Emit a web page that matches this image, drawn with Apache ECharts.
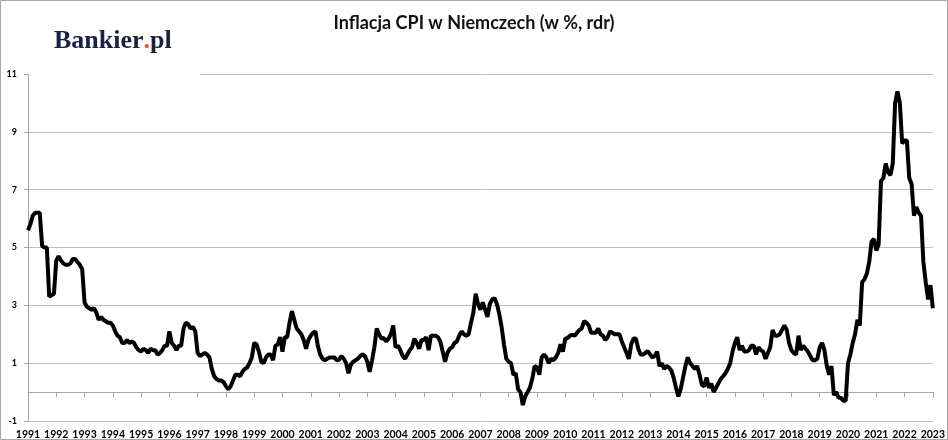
<!DOCTYPE html>
<html><head><meta charset="utf-8">
<script src="https://cdn.jsdelivr.net/npm/echarts@6/dist/echarts.min.js"></script>
<style>html,body{margin:0;padding:0;background:#fff}#c{width:948px;height:440px}</style>
</head><body><div id="c"></div>
<script>
const yearLabels = ['1991','1992','1993','1994','1995','1996','1997','1998','1999','2000','2001','2002','2003','2004','2005','2006','2007','2008','2009','2010','2011','2012','2013','2014','2015','2016','2017','2018','2019','2020','2021','2022','2023'];

// monthly y/y CPI, Jan 1992 .. Jan 2024
const cpi1992to1997 = [
  5.6, 5.8, 6.1, 6.2, 6.2, 6.2, 5.05, 5.0, 5.0, 3.3, 3.35, 3.4,
  4.55, 4.7, 4.55, 4.45, 4.4, 4.4, 4.45, 4.6, 4.6, 4.5, 4.4, 4.25,
  3.1, 2.95, 2.9, 2.85, 2.9, 2.75, 2.5, 2.6, 2.5, 2.45, 2.4, 2.4,
  2.3, 2.1, 1.95, 1.9, 1.7, 1.7, 1.8, 1.7, 1.75, 1.7, 1.55, 1.45,
  1.4, 1.5, 1.45, 1.35, 1.5, 1.45, 1.45, 1.3, 1.35, 1.45, 1.6, 1.6,
  2.1, 1.7, 1.6, 1.45, 1.6, 1.6, 2.2, 2.4, 2.35, 2.2, 2.25, 2.1
];
const cpi1998to2003 = [
  1.35, 1.25, 1.3, 1.35, 1.3, 1.2, 0.8, 0.55, 0.45, 0.4, 0.4, 0.35,
  0.2, 0.1, 0.2, 0.4, 0.6, 0.6, 0.55, 0.7, 0.8, 0.85, 1.0, 1.2,
  1.7, 1.65, 1.4, 1.05, 1.0, 1.2, 1.3, 1.3, 1.1, 1.6, 1.65, 1.9,
  1.4, 1.9, 1.9, 2.4, 2.8, 2.5, 2.2, 2.1, 2.0, 1.8, 1.5, 1.8,
  1.95, 2.05, 2.1, 1.6, 1.3, 1.15, 1.1, 1.15, 1.2, 1.2, 1.2, 1.1,
  1.12, 1.25, 1.15, 1.0, 0.65, 0.95, 1.05, 1.1, 1.15, 1.25, 1.3, 1.25
];
const cpi2004to2009 = [
  1.05, 0.7, 1.1, 1.55, 2.2, 2.0, 1.85, 1.87, 1.75, 1.85, 2.0, 2.3,
  1.55, 1.6, 1.45, 1.25, 1.15, 1.3, 1.45, 1.55, 1.85, 1.7, 1.5, 1.8,
  1.8, 1.9, 1.45, 1.95, 1.95, 1.95, 1.9, 1.75, 1.4, 1.05, 1.35, 1.5,
  1.55, 1.7, 1.75, 1.95, 2.1, 2.0, 1.95, 2.0, 2.4, 2.75, 3.4, 3.05,
  2.85, 3.1, 2.85, 2.6, 3.05, 3.2, 3.25, 3.05, 2.7, 2.25, 1.65, 1.15,
  1.05, 1.0, 0.6, 0.65, 0.1, 0.0, -0.45, -0.15, 0.0, 0.15, 0.45, 0.9
];
const cpi2010to2015 = [
  0.85, 0.6, 1.2, 1.3, 1.2, 1.0, 1.15, 1.1, 1.2, 1.35, 1.65, 1.4,
  1.85, 1.87, 1.95, 1.98, 1.95, 2.05, 2.15, 2.2, 2.45, 2.4, 2.3, 2.05,
  2.05, 2.05, 2.2, 2.0, 1.95, 1.8, 1.9, 2.1, 2.05, 2.0, 2.0, 2.0,
  1.75, 1.55, 1.35, 1.15, 1.65, 1.85, 1.85, 1.5, 1.3, 1.3, 1.35, 1.42,
  1.3, 1.2, 1.25, 1.4, 0.9, 1.0, 0.8, 0.9, 0.85, 0.75, 0.5, 0.15,
  -0.15, 0.1, 0.5, 0.9, 1.2, 1.0, 0.9, 0.8, 0.9, 0.6, 0.25, 0.2
];
const cpi2016to2021 = [
  0.5, 0.15, 0.3, 0.0, 0.15, 0.3, 0.45, 0.55, 0.65, 0.8, 1.0, 1.4,
  1.7, 1.9, 1.45, 1.6, 1.4, 1.4, 1.45, 1.6, 1.6, 1.3, 1.55, 1.45,
  1.4, 1.15, 1.35, 1.55, 2.15, 1.95, 1.95, 2.0, 2.15, 2.3, 2.15, 1.7,
  1.45, 1.35, 1.3, 1.95, 1.45, 1.6, 1.5, 1.4, 1.25, 1.1, 1.1, 1.15,
  1.55, 1.7, 1.45, 0.9, 0.6, 0.9, -0.1, 0.0, -0.2, -0.2, -0.3, -0.3,
  1.0, 1.3, 1.7, 2.0, 2.5, 2.3, 3.8, 3.9, 4.1, 4.5, 5.2, 5.3
];
const cpi2022to2024 = [
  4.9, 5.1, 7.3, 7.4, 7.9, 7.6, 7.5, 7.9, 10.0, 10.4, 10.0, 8.6,
  8.7, 8.7, 7.4, 7.2, 6.1, 6.4, 6.2, 6.1, 4.5, 3.8, 3.2, 3.7,
  2.9
];

const cpi = [].concat(cpi1992to1997, cpi1998to2003, cpi2004to2009, cpi2010to2015, cpi2016to2021, cpi2022to2024);
const seriesData = cpi.map((v, i) => [i, v]);

const chart = echarts.init(document.getElementById('c'));
chart.setOption({
  animation: false,
  backgroundColor: '#fff',
  title: {
    text: 'Inflacja CPI w Niemczech (w %, rdr)',
    left: 'center', top: 9,
    textStyle: { fontFamily: 'Lato', fontWeight: 'bold', fontSize: 18, color: '#111' }
  },
  grid: { left: 28, right: 12, top: 74, bottom: 12 },
  xAxis: {
    type: 'value', min: 0, max: cpi.length - 1, interval: 12,
    axisLine: { onZero: true, lineStyle: { color: '#a6a6a6', width: 1 } },
    axisTick: { show: true, length: 5, lineStyle: { color: '#a6a6a6' } },
    axisLabel: {
      formatter: v => yearLabels[Math.round(v / 12)] || '',
      fontFamily: 'Lato', fontWeight: 'bold', fontSize: 10.5, color: '#000', margin: 8,
      showMinLabel: true, showMaxLabel: true
    },
    splitLine: { show: false }
  },
  yAxis: {
    type: 'value', min: -1, max: 11, interval: 2,
    axisLine: { show: true, lineStyle: { color: '#a6a6a6' } },
    axisTick: { show: true, length: 4, lineStyle: { color: '#a6a6a6' } },
    axisLabel: { fontFamily: 'Lato', fontWeight: 'bold', fontSize: 9, color: '#000', margin: 11 },
    splitLine: { show: true, lineStyle: { color: '#bfbfbf', width: 1 } }
  },
  graphic: [
    { type: 'rect', z: 100, silent: true, shape: { x: 29, y: 70, width: 171, height: 8 }, style: { fill: '#fff' } },
    { type: 'rect', z: 100, silent: true, shape: { x: 0.5, y: 0.5, width: 947, height: 439 }, style: { fill: 'none', stroke: '#a6a6a6', lineWidth: 1 } },
    {
      type: 'text', z: 101, left: 54, top: 28,
      style: {
        text: '{a|Bankier}{b|.}{a|pl}',
        rich: {
          a: { fontFamily: 'Liberation Serif', fontWeight: 'bold', fontSize: 26, fill: '#17233f', color: '#17233f' },
          b: { fontFamily: 'Liberation Serif', fontWeight: 'bold', fontSize: 26, fill: '#e8542a', color: '#e8542a' }
        }
      }
    }
  ],
  series: [{
    type: 'line', data: seriesData, showSymbol: false, symbol: 'none',
    lineStyle: { color: '#000', width: 4 }, z: 3
  }]
});
</script>
</body></html>
